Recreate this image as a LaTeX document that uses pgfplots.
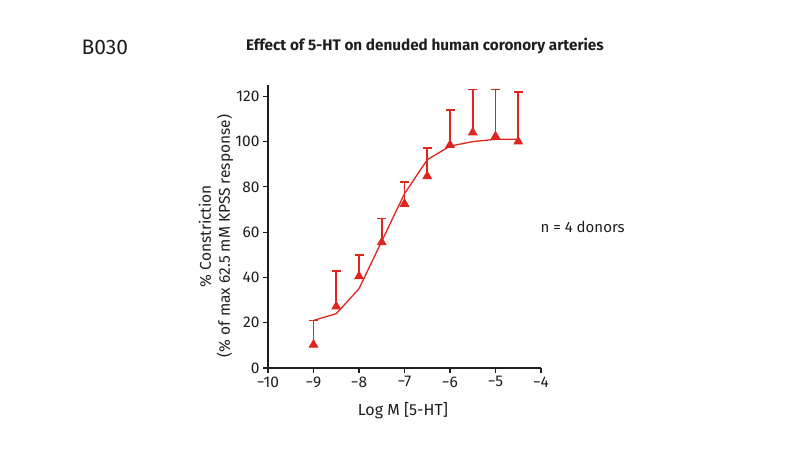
\documentclass[border=0pt]{standalone}
\usepackage{pgfplots}
\pgfplotsset{compat=1.18}
\usepackage{fontspec}
\setmainfont{Fira Sans}
\definecolor{cred}{RGB}{224,36,30}
\definecolor{ctext}{RGB}{30,30,30}
\begin{document}
\begin{tikzpicture}[x=1pt,y=1pt]
\path[use as bounding box] (0,0) rectangle (800,464);
\begin{axis}[
  at={(268pt,96pt)}, anchor=south west,
  scale only axis, width=273pt, height=283pt,
  xmin=-10, xmax=-4, ymin=0, ymax=125,
  axis lines=left, axis line style={line width=1.1pt, ctext, -},
  xtick={-10,-9,-8,-7,-6,-5,-4},
  xticklabels={−10,−9,−8,−7,−6,−5,−4},
  ytick={0,20,40,60,80,100,120},
  tick style={line width=1.1pt, ctext},
  tick align=outside, major tick length=5pt,
  tick label style={font=\fontsize{15.5}{18}\selectfont, ctext},
  /pgf/number format/assume math mode=true,
  clip=false,
]
\addplot[cred, line width=1.8pt, mark=triangle*, mark size=4.8pt, only marks,
  mark options={line width=1pt},
  error bars/.cd, y dir=plus, y explicit,
  error bar style={line width=1.8pt, cred},
  error mark options={rotate=90, line width=1.8pt, cred, mark size=4.5pt}]
  table[x=x, y=y, y error=e] {
  x y e
  -9 10.3 10.7
  -8.5 27.2 15.8
  -8 40.5 9.5
  -7.5 55.5 10.5
  -7 72.5 9.5
  -6.5 84.7 12.3
  -6 98.5 15.5
  -5.5 104 19
  -5 102.3 20.7
  -4.5 100 22
  };
\addplot[cred, line width=1.3pt, no marks] coordinates {
  (-9,21) (-8.5,24) (-8,35) (-7.5,56) (-7,77) (-6.5,92) (-6,98) (-5.5,100) (-5,101) (-4.5,101)
};
\end{axis}
\node[font=\fontsize{15.5}{19}\selectfont, ctext, align=center, rotate=90] at (216,228)
  {\% Constriction\\(\% of max 62.5 mM KPSS response)};
\node[font=\fontsize{16}{19}\selectfont, ctext] at (403,53) {Log M [5-HT]};
\node[font=\fontsize{15}{18}\selectfont, ctext, anchor=west] at (537,237) {n = 4 donors};
\node[font=\fontsize{15.3}{18}\selectfont\bfseries, ctext] at (425,418) {Effect of 5-HT on denuded human coronory arteries};
\node[font=\fontsize{21}{25}\selectfont, ctext, anchor=west] at (78,417) {B030};
\end{tikzpicture}
\end{document}
